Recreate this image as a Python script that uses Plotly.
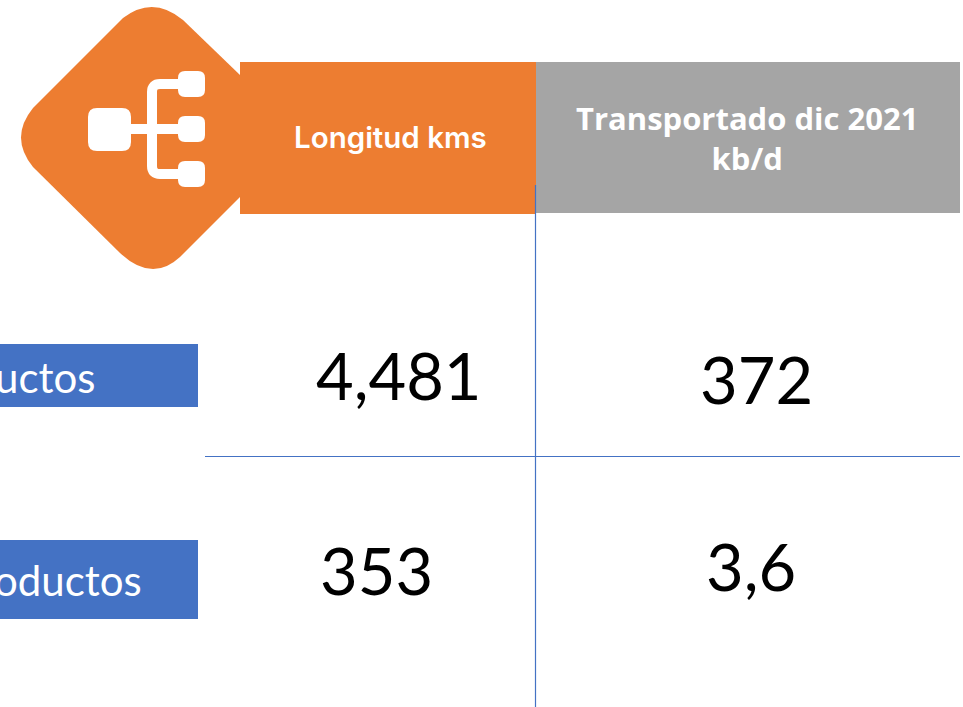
import plotly.graph_objects as go

column_titles = ["Longitud kms", "Transportado dic 2021<br>kb/d"]
row_labels = ["uctos", "oductos"]
longitud_kms = ["4,481", "353"]
transportado = ["372", "3,6"]

ORANGE = "#ED7D31"
GREY = "#A5A5A5"
BLUE = "#4472C4"
LINE = "#4472C4"
W, H = 963, 707


def rect(x0, y0, x1, y1, color):
    return dict(type="rect", xref="x", yref="y", x0=x0, y0=y0, x1=x1, y1=y1,
                fillcolor=color, line=dict(width=0), layer="below")


def rrect(x0, y0, x1, y1, r, color="white"):
    p = (f"M{x0+r},{y0} L{x1-r},{y0} Q{x1},{y0} {x1},{y0+r} L{x1},{y1-r} Q{x1},{y1} {x1-r},{y1} "
         f"L{x0+r},{y1} Q{x0},{y1} {x0},{y1-r} L{x0},{y0+r} Q{x0},{y0} {x0+r},{y0} Z")
    return dict(type="path", xref="x", yref="y", path=p, fillcolor=color, line=dict(width=0))


def stroke(path, color="white", width=10):
    return dict(type="path", xref="x", yref="y", path=path, line=dict(color=color, width=width))


def seg(x0, y0, x1, y1, color=LINE, width=1.2):
    return dict(type="line", xref="x", yref="y", x0=x0, y0=y0, x1=x1, y1=y1,
                line=dict(color=color, width=width))


diamond = ("M123,18 Q153,-5 183,20 L240,75 L240,197 L180,257 Q152,283 120,253 "
           "L33,167 Q9,137.5 33,108 Z")

shapes = [
    dict(type="path", xref="x", yref="y", path=diamond, fillcolor=ORANGE, line=dict(width=0)),
    rect(240, 62, 536, 214, ORANGE),
    rect(536, 62, 960, 213, GREY),
    rect(0, 344, 198, 407, BLUE),
    rect(0, 540, 198, 619, BLUE),
    rrect(88, 108, 131, 151, 9),
    rrect(178, 71, 205, 97, 7),
    rrect(178, 116, 205, 142, 7),
    rrect(178, 161, 205, 187, 7),
    stroke("M180,84 L160,84 Q152,84 152,92 L152,166 Q152,174 160,174 L180,174"),
    stroke("M130,129 L180,129"),
    seg(535.5, 185, 535.5, 707),
    seg(205, 456.5, 960, 456.5),
]


def text(x, y, s, size, family, color="black", anchor="center", weight=None):
    return dict(x=x, y=y, xref="x", yref="y", text=s, showarrow=False, xanchor=anchor, yanchor="middle",
                font=dict(size=size, family=family, color=color, weight=weight), align="center")


annotations = [
    text(390, 137, column_titles[0], 29.5, "Inter", "white", weight=600),
    text(747, 137.5, column_titles[1], 31, "Open Sans", "white", weight=700),
    text(97, 377, row_labels[0], 42, "Lato", "white", anchor="right"),
    text(144, 580, row_labels[1], 42, "Lato", "white", anchor="right"),
    text(398.5, 375, longitud_kms[0], 65, "Lato"),
    text(376.5, 570, longitud_kms[1], 65, "Lato"),
    text(756, 379, transportado[0], 65, "Lato"),
    text(750.5, 566, transportado[1], 65, "Lato"),
]

fig = go.Figure()
fig.update_layout(
    width=W, height=H, autosize=False,
    margin=dict(l=0, r=0, t=0, b=0),
    paper_bgcolor="white", plot_bgcolor="white",
    xaxis=dict(range=[0, W], visible=False, fixedrange=True),
    yaxis=dict(range=[H, 0], visible=False, fixedrange=True),
    shapes=shapes, annotations=annotations, showlegend=False,
)
fig.write_html("out.html", config={"displayModeBar": False},
               post_script="document.body.style.margin='0';document.body.style.overflow='hidden';")
